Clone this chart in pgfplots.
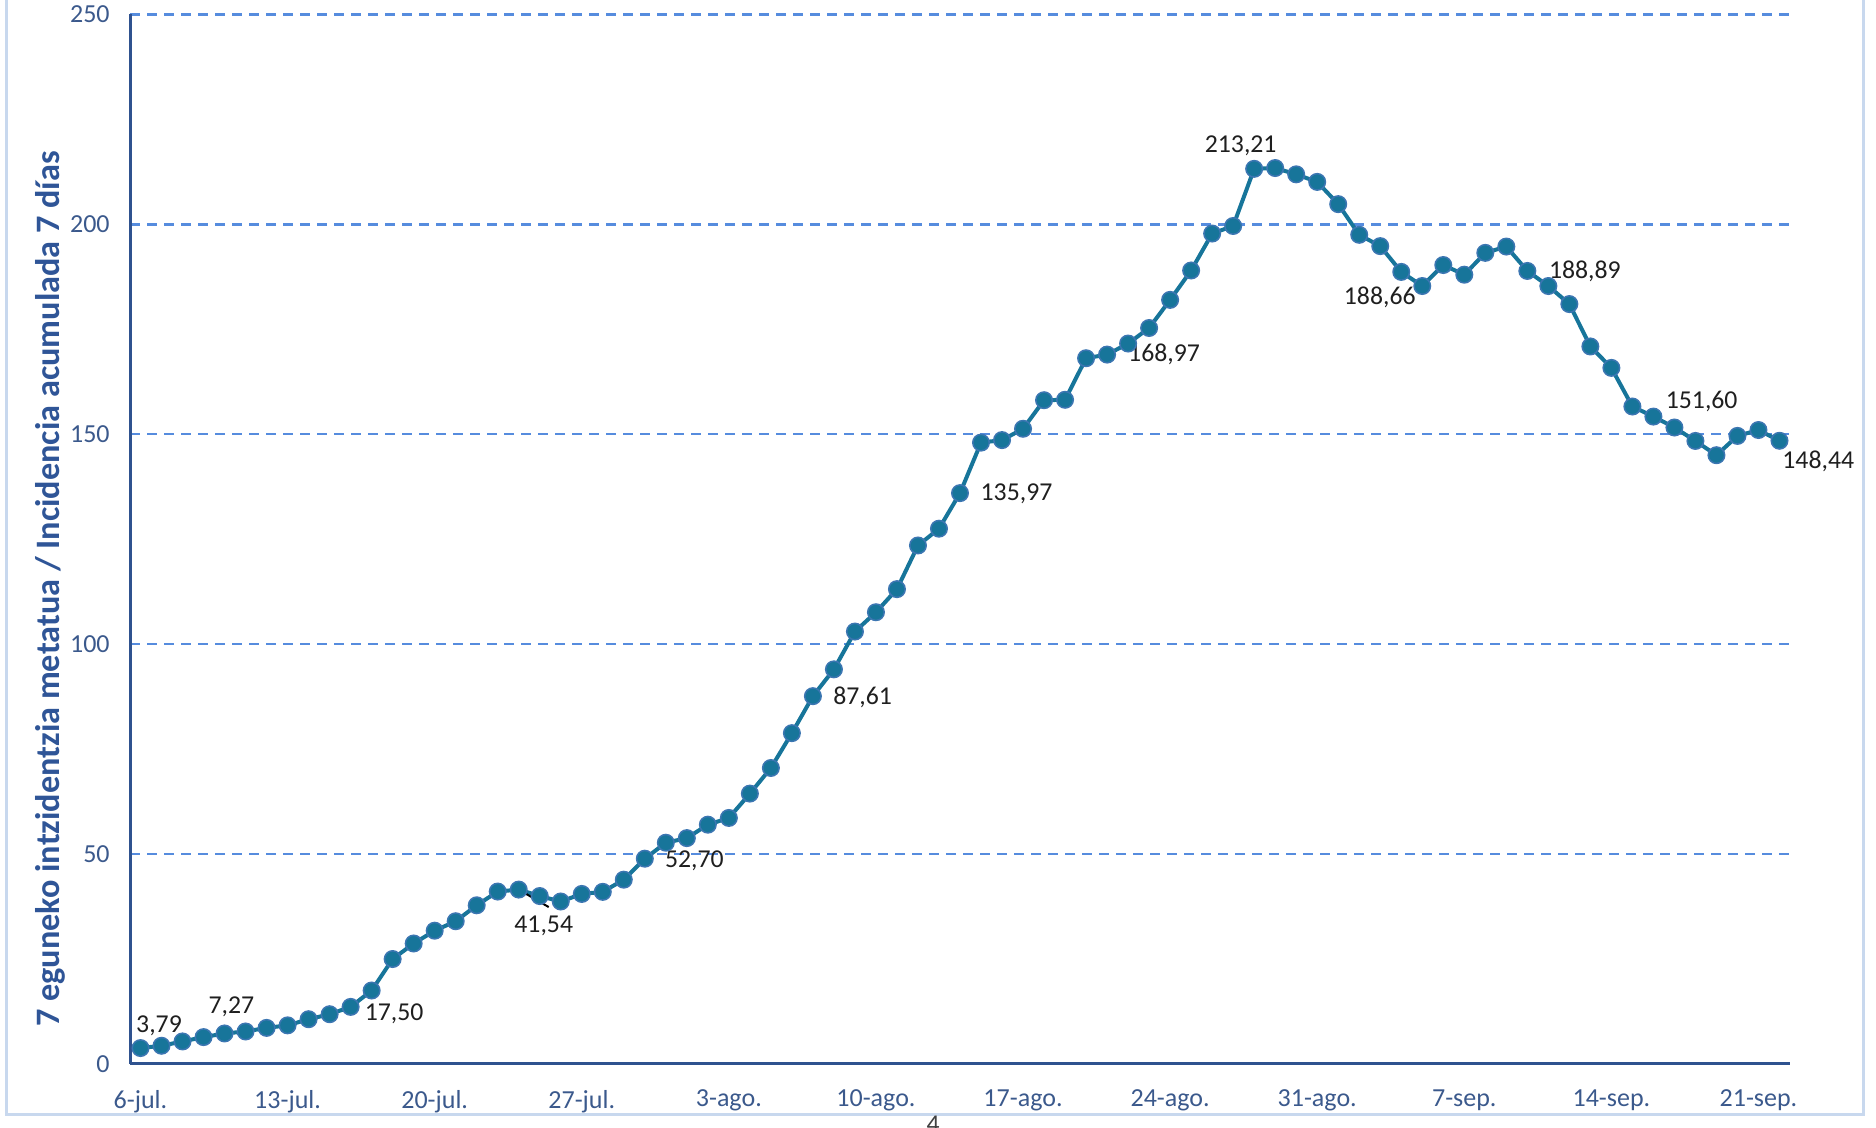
\documentclass[border=0pt]{standalone}
\usepackage{pgfplots}
\usepackage{pgfplotstable}
\pgfplotsset{compat=1.18}
\usepackage{fontspec}
\setmainfont{Carlito}
\definecolor{linec}{RGB}{23,117,154}
\definecolor{markb}{RGB}{60,118,178}
\definecolor{gridc}{RGB}{86,140,222}
\definecolor{axisc}{RGB}{47,82,143}
\definecolor{tickc}{RGB}{59,89,140}
\definecolor{ylabc}{RGB}{47,85,151}
\definecolor{framec}{RGB}{200,216,238}
\pgfplotstableread{
x y
1 3.79
2 4.34
3 5.37
4 6.40
5 7.27
6 7.74
7 8.60
8 9.20
9 10.66
10 11.85
11 13.60
12 17.50
13 25.00
14 28.70
15 31.75
16 34.00
17 37.80
18 41.07
19 41.54
20 40.00
21 38.70
22 40.50
23 41.00
24 43.90
25 48.90
26 52.70
27 53.80
28 57.00
29 58.60
30 64.40
31 70.50
32 78.80
33 87.61
34 94.00
35 103.00
36 107.60
37 113.10
38 123.50
39 127.50
40 135.97
41 148.00
42 148.60
43 151.30
44 158.10
45 158.20
46 168.10
47 168.97
48 171.60
49 175.30
50 182.00
51 189.00
52 197.80
53 199.60
54 213.21
55 213.40
56 211.90
57 210.10
58 204.80
59 197.50
60 194.80
61 188.66
62 185.30
63 190.30
64 188.00
65 193.20
66 194.70
67 188.89
68 185.30
69 181.00
70 170.90
71 165.80
72 156.60
73 154.20
74 151.60
75 148.40
76 145.00
77 149.60
78 151.00
79 148.44
}\datatable
\begin{document}
\begin{tikzpicture}
\useasboundingbox (0,0) rectangle (750.4pt,451.2pt);
\draw[framec, line width=1.2pt] (2.4pt,451.2pt) -- (2.4pt,5.4pt) -- (745.2pt,5.4pt) -- (745.2pt,451.2pt);
\node[anchor=base, font=\fontsize{10.24}{12}\selectfont, text=black!75] at (373.2pt,-1.7pt) {4};
\node[rotate=90, font=\fontsize{13.7}{15}\selectfont\bfseries, text=ylabc] at (20pt,215.6pt) {7 eguneko intzidentzia metatua / Incidencia acumulada 7 días};
\begin{axis}[
  at={(52pt,25.6pt)}, anchor=south west,
  scale only axis, width=664pt, height=419.84pt,
  xmin=0.5, xmax=79.5, ymin=0, ymax=250,
  clip=false,
  axis x line=bottom, axis y line=left,
  axis line style={draw=axisc, line width=1.2pt, -},
  ytick={0,50,100,150,200,250},
  xtick={1,8,15,22,29,36,43,50,57,64,71,78},
  xticklabels={6-jul.,13-jul.,20-jul.,27-jul.,3-ago.,10-ago.,17-ago.,24-ago.,31-ago.,7-sep.,14-sep.,21-sep.},
  major tick length=0pt,
  tick style={draw=none},
  ymajorgrids,
  grid style={draw=gridc, line width=1pt, dash pattern=on 3.8pt off 3pt},
  ticklabel style={font=\fontsize{10.4}{12}\selectfont, text=tickc},
  /pgf/number format/assume math mode=true,
  yticklabel style={xshift=-4.6pt},
  xticklabel style={yshift=-6.9pt},
]
\addplot[color=linec, line width=1.6pt, mark=*, mark size=3.3pt,
  mark options={fill=linec, draw=markb, line width=0.6pt}] table[x=x,y=y] {\datatable};
\draw[black, line width=0.8pt] (axis cs:19,41.54) -- ++(12pt,-7pt);
\begin{scope}[every node/.style={font=\fontsize{10.3}{12}\selectfont, text=black!88}]
\node at (axis cs:1,3.79) [xshift=7.4pt, yshift=8.8pt] {3,79};
\node at (axis cs:5,7.27) [xshift=2.7pt, yshift=10.6pt] {7,27};
\node at (axis cs:12,17.50) [xshift=9pt, yshift=-9.2pt] {17,50};
\node at (axis cs:19,41.54) [xshift=10pt, yshift=-14.5pt] {41,54};
\node at (axis cs:26,52.70) [xshift=11.4pt, yshift=-7.4pt] {52,70};
\node at (axis cs:33,87.61) [xshift=19.9pt, yshift=-0.6pt] {87,61};
\node at (axis cs:40,135.97) [xshift=22.6pt, yshift=-0.4pt] {135,97};
\node at (axis cs:47,168.97) [xshift=22.8pt, yshift=0pt] {168,97};
\node at (axis cs:54,213.21) [xshift=-5.4pt, yshift=9.3pt] {213,21};
\node at (axis cs:61,188.66) [xshift=-8.6pt, yshift=-10.3pt] {188,66};
\node at (axis cs:67,188.89) [xshift=23pt, yshift=0pt] {188,89};
\node at (axis cs:74,151.60) [xshift=10.9pt, yshift=10.6pt] {151,60};
\node at (axis cs:79,148.44) [xshift=15.5pt, yshift=-8.3pt] {148,44};
\end{scope}
\end{axis}
\end{tikzpicture}
\end{document}
